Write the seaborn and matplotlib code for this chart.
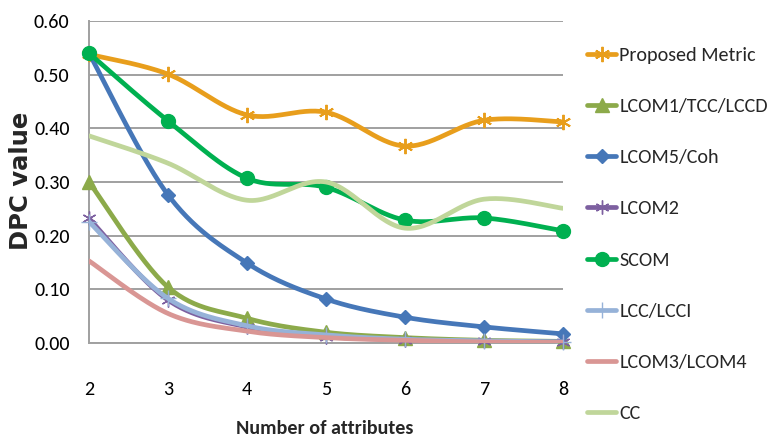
import numpy as np
import pandas as pd
import matplotlib
matplotlib.use("Agg")
import matplotlib.pyplot as plt
from matplotlib.lines import Line2D
import seaborn as sns

# Number of attributes on the x axis
attributes = [2, 3, 4, 5, 6, 7, 8]

proposed_metric = [0.538, 0.501, 0.425, 0.430, 0.367, 0.415, 0.412]
lcom1_tcc_lccd = [0.300, 0.104, 0.046, 0.020, 0.010, 0.005, 0.003]
lcom5_coh = [0.540, 0.276, 0.149, 0.082, 0.048, 0.030, 0.017]
lcom2 = [0.232, 0.080, 0.030, 0.012, 0.006, 0.003, 0.002]
scom = [0.540, 0.414, 0.307, 0.290, 0.229, 0.233, 0.209]
lcc_lcci = [0.226, 0.083, 0.032, 0.015, 0.007, 0.004, 0.002]
lcom3_lcom4 = [0.153, 0.055, 0.022, 0.010, 0.005, 0.002, 0.001]
cc = [0.386, 0.335, 0.266, 0.300, 0.214, 0.268, 0.251]

series_names = ["Proposed Metric", "LCOM1/TCC/LCCD", "LCOM5/Coh", "LCOM2",
                "SCOM", "LCC/LCCI", "LCOM3/LCOM4", "CC"]
series_values = [proposed_metric, lcom1_tcc_lccd, lcom5_coh, lcom2,
                 scom, lcc_lcci, lcom3_lcom4, cc]

y_ticks = [0.0, 0.1, 0.2, 0.3, 0.4, 0.5, 0.6]

colors = ["#E89E1C", "#8CAA4A", "#4677B8", "#7D60A0",
          "#00B050", "#96B2D8", "#D99694", "#C0D69A"]
markers = [(6, 2, 0), "^", "D", (6, 2, 0), "o", "+", None, None]
marker_sizes = [11, 10, 7.5, 10, 10, 12, 0, 0]
marker_edge = [1.4, 1, 1, 1.0, 1, 1.0, 0, 0]


def smooth_curve(xs, ys, steps=30):
    """Cubic Bezier curve through the points (Catmull-Rom style)."""
    pts = np.column_stack([xs, ys]).astype(float)
    n = len(pts)
    out = []
    for i in range(n - 1):
        p0 = pts[max(i - 1, 0)]
        p1 = pts[i]
        p2 = pts[i + 1]
        p3 = pts[min(i + 2, n - 1)]
        c1 = p1 + (p2 - p0) / 6.0
        c2 = p2 - (p3 - p1) / 6.0
        t = np.linspace(0, 1, steps, endpoint=(i == n - 2))[:, None]
        seg = ((1 - t) ** 3) * p1 + 3 * ((1 - t) ** 2) * t * c1 \
            + 3 * (1 - t) * t ** 2 * c2 + t ** 3 * p2
        out.append(seg)
    out = np.vstack(out)
    return out[:, 0], out[:, 1]


sns.set_theme(style="white")
body_font = ["Carlito", "Liberation Sans", "DejaVu Sans"]
plt.rcParams["font.family"] = body_font

fig = plt.figure(figsize=(7.7, 4.44), dpi=100)
ax = fig.add_axes([89 / 770, 1 - 343 / 444, (563 - 89) / 770, (343 - 21) / 444])

for i, (name, vals) in enumerate(zip(series_names, series_values)):
    sx, sy = smooth_curve(attributes, vals)
    curve = pd.DataFrame({"x": sx, "y": sy})
    sns.lineplot(data=curve, x="x", y="y", ax=ax, color=colors[i], lw=3.4,
                 sort=False, estimator=None, zorder=3 + i)
    if markers[i] is not None:
        pts = pd.DataFrame({"x": attributes, "y": vals})
        ax.plot(pts["x"], pts["y"], linestyle="none", marker=markers[i],
                markersize=marker_sizes[i], color=colors[i],
                markeredgecolor=colors[i], markeredgewidth=marker_edge[i],
                zorder=3 + i, clip_on=False)

ax.set_xlim(2, 8)
ax.set_ylim(0, 0.6)
ax.set_xticks(attributes)
ax.set_xticklabels([str(a) for a in attributes])
ax.set_yticks(y_ticks)
ax.set_yticklabels([f"{v:.2f}" for v in y_ticks])
ax.tick_params(axis="both", labelsize=14.5, colors="#000000", length=0)
ax.tick_params(axis="x", pad=27)
ax.tick_params(axis="y", pad=14)
ax.grid(axis="y", color="#A0A0A0", lw=1.4)
ax.grid(axis="x", visible=False)
for side in ["top", "right"]:
    ax.spines[side].set_visible(False)
for side in ["left", "bottom"]:
    ax.spines[side].set_color("#A0A0A0")
    ax.spines[side].set_linewidth(1.4)

ax.set_xlabel("Number of attributes", fontsize=14.5, fontweight="bold")
ax.xaxis.set_label_coords(0.498, -0.267)
ax.xaxis.label.set_va("center")
ax.set_ylabel("DPC value", fontsize=17.5, fontweight="bold",
              family=["DejaVu Sans"])
ax.yaxis.set_label_coords(-0.143, 0.503)
ax.yaxis.label.set_va("center")

handles = []
for i in range(len(series_names)):
    handles.append(Line2D([0], [0], color=colors[i], lw=3.4,
                          marker=markers[i] if markers[i] is not None else None,
                          markersize=marker_sizes[i], markeredgewidth=marker_edge[i],
                          markeredgecolor=colors[i]))
fig.legend(handles, series_names, loc="upper left",
           bbox_to_anchor=(587 / 770, 1 - 47 / 444), frameon=False,
           fontsize=14.5, labelspacing=1.69, handlelength=1.45,
           handletextpad=0.15, numpoints=1, borderaxespad=0, borderpad=0)

fig.savefig("out.png", dpi=100)
